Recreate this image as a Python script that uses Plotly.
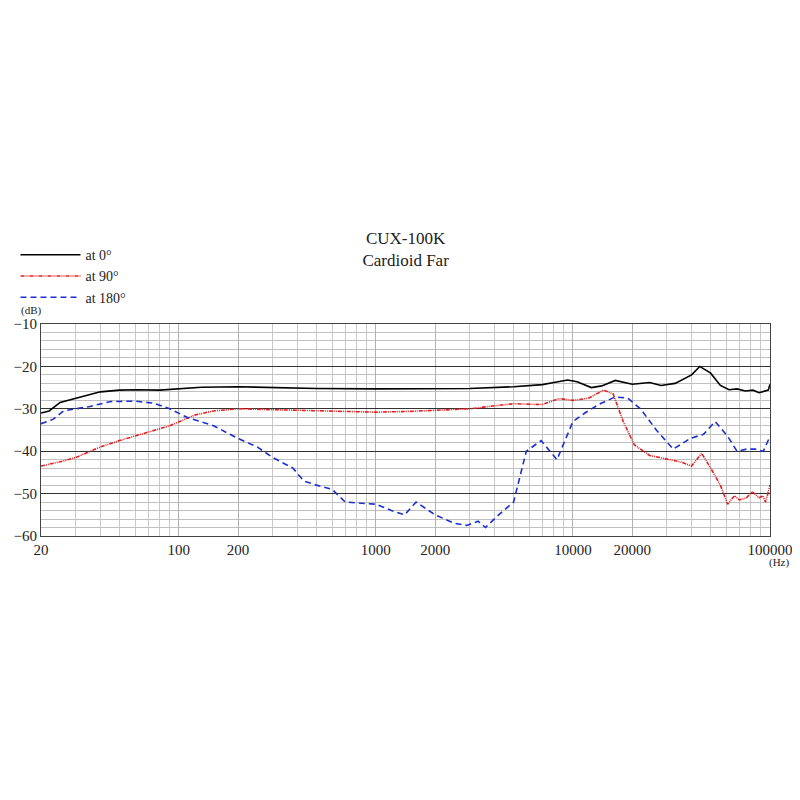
import plotly.graph_objects as go

# at 0 deg
f0 = [20, 22, 25, 30, 40, 50, 60, 80, 100, 130, 200, 300, 500, 1000, 2000, 3000, 5000, 7000,
      8000, 9400, 10500, 12400, 14000, 16400, 20000, 24500, 28000, 33000, 40000, 44000, 50000,
      56000, 62000, 68000, 75000, 82000, 88000, 93000, 98000, 100000]
db0 = [-31, -30.5, -28.5, -27.5, -26, -25.6, -25.5, -25.6, -25.3, -24.9, -24.8, -25, -25.2, -25.3,
       -25.3, -25.2, -24.8, -24.3, -23.8, -23.2, -23.6, -25, -24.6, -23.3, -24.2, -23.8, -24.5,
       -24, -22, -20, -21.6, -24.5, -25.5, -25.3, -25.8, -25.6, -26.2, -25.8, -25.6, -24.2]

# at 90 deg
f90 = [20, 25, 30, 40, 50, 70, 90, 120, 150, 200, 300, 500, 1000, 1500, 2000, 3000, 4000, 5000,
       7000, 8500, 10000, 12000, 14300, 16000, 18000, 20500, 24500, 35000, 40000, 45000, 50000,
       56000, 61000, 66000, 70000, 76000, 81000, 88000, 92000, 95000, 100000]
db90 = [-43.5, -42.5, -41.5, -39, -37.5, -35.5, -34, -31.5, -30.5, -30, -30.2, -30.5, -30.8,
        -30.6, -30.3, -30, -29.3, -28.8, -29, -27.6, -28, -27.5, -25.6, -26.5, -33, -38.5, -41,
        -42.5, -43.5, -40.5, -44, -48, -52.5, -50.5, -51.5, -51, -49.5, -51, -50.5, -52, -48]

# at 180 deg
f180 = [20, 23, 26, 30, 35, 45, 60, 75, 90, 110, 150, 200, 250, 300, 380, 430, 500, 600, 700,
        1000, 1200, 1400, 1600, 2000, 2500, 2900, 3300, 3600, 4200, 5000, 5800, 6900, 8300,
        10000, 11500, 13500, 16400, 19000, 22000, 26500, 32300, 39400, 46000, 52700, 61000,
        68000, 76000, 84000, 92500, 100000]
db180 = [-33.5, -32.5, -30.5, -30, -29.5, -28.3, -28.2, -28.7, -30, -32, -34, -37, -39, -41.5,
         -44, -47, -48, -49, -52, -52.5, -54, -55, -52, -55, -57, -57.5, -56.5, -58, -55, -52,
         -40, -37.5, -42, -33, -31, -29, -27.2, -27.5, -30, -35, -39.5, -37, -36, -33, -36.5,
         -40, -39.5, -39.5, -40, -36.5]

x_major = [20, 100, 200, 1000, 2000, 10000, 20000, 100000]
x_labels = ['20', '100', '200', '1000', '2000', '10000', '20000', '100000']
x_minor = [m * 10 ** k for k in range(1, 5) for m in range(2, 10) if 20 <= m * 10 ** k <= 100000]
x_minor += [100, 1000, 10000]

font = dict(family='Liberation Serif', size=14, color='#222')

fig = go.Figure()
fig.add_trace(go.Scatter(x=f0, y=db0, name='at 0°', mode='lines',
                         line=dict(color='black', width=1.6)))
fig.add_trace(go.Scatter(x=f90, y=db90, name='at 90°', mode='lines',
                         line=dict(color='#e02020', width=1.6, dash='4px,1px,1px,1px,1px,1px')))
fig.add_trace(go.Scatter(x=f180, y=db180, name='at 180°', mode='lines',
                         line=dict(color='#1a2fd0', width=1.6, dash='6px,4px')))

fig.update_layout(
    width=800, height=800,
    margin=dict(l=33, r=38, t=316, b=272, autoexpand=False),
    plot_bgcolor='white', paper_bgcolor='white',
    font=font,
    title=dict(text='CUX-100K<br>Cardioid Far', x=0.497, xanchor='center', y=0.705,
               yanchor='top', font=dict(family='Liberation Serif', size=17, color='#222')),
    legend=dict(x=-0.035, y=1.4, xanchor='left', yanchor='top', bgcolor='rgba(0,0,0,0)',
                font=dict(family='Liberation Serif', size=14, color='#222'),
                itemwidth=60, tracegroupgap=2),
    xaxis=dict(type='log', range=[1.30103, 5], tickvals=x_major, ticktext=x_labels,
               showgrid=True, gridcolor='#b0b0b0', gridwidth=1, ticks='', automargin=False,
               showline=True, linecolor='#444', mirror=True, zeroline=False,
               minor=dict(tickvals=x_minor, showgrid=True, gridcolor='#c8c8c8', gridwidth=1),
               tickfont=dict(family='Liberation Serif', size=15, color='#222')),
    yaxis=dict(range=[-60, -10], tickvals=[-60, -50, -40, -30, -20, -10],
               ticktext=['−60', '−50', '−40', '−30', '−20', '−10'], automargin=False,
               showgrid=True, gridcolor='#333', gridwidth=1.2, ticks='',
               showline=True, linecolor='#444', mirror=True, zeroline=False,
               minor=dict(dtick=2, showgrid=True, gridcolor='#c0c0c0', gridwidth=1),
               tickfont=dict(family='Liberation Serif', size=15, color='#222')),
)
fig.add_annotation(text='(dB)', xref='paper', yref='paper', x=-0.03, y=1.025, xanchor='left',
                   yanchor='bottom', showarrow=False, font=dict(family='Liberation Serif', size=11))
fig.add_annotation(text='(Hz)', xref='paper', yref='paper', x=1.012, y=-0.085, xanchor='center',
                   yanchor='top', showarrow=False, font=dict(family='Liberation Serif', size=11))

fig.write_html('out.html')
